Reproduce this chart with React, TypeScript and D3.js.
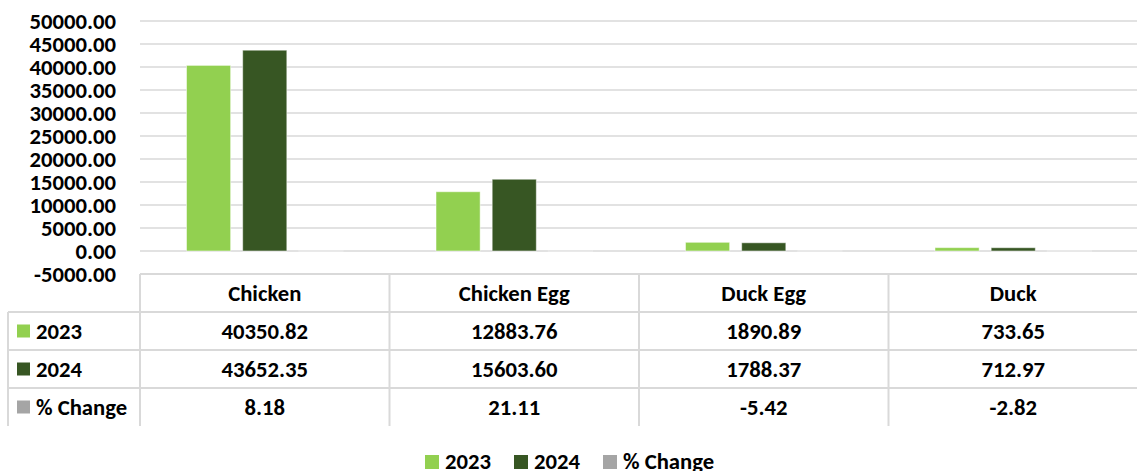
import * as d3 from "d3";

const width = 1137;
const height = 471;
const plot = { left: 140, right: 1138, top: 21, zero: 274 };

const categories = ["Chicken", "Chicken Egg", "Duck Egg", "Duck"];
const values2023 = [40350.82, 12883.76, 1890.89, 733.65];
const values2024 = [43652.35, 15603.6, 1788.37, 712.97];
const pctChange = [8.18, 21.11, -5.42, -2.82];
const seriesNames = ["2023", "2024", "% Change"];
const seriesColors = ["#92D050", "#375623", "#A5A5A5"];
const yTicks = d3.range(-5000, 50001, 5000);

const font = "Carlito, 'Open Sans', 'Liberation Sans', sans-serif";
const fs = 22.7;

const App = () => {
  const series = [values2023, values2024, pctChange];

  const y = d3.scaleLinear().domain([-5000, 50000]).range([plot.zero, plot.top]);
  const x = d3.scaleBand().domain(categories).range([plot.left, plot.right]).paddingInner(0).paddingOuter(0);
  const band = x.bandwidth();
  const inner = d3
    .scaleBand()
    .domain(seriesNames)
    .range([46.5, band - 46.5])
    .paddingInner(12 / 56);

  // table rows
  const rowTop = plot.zero;
  const rowH = 38;
  const tableLeft = 8;
  const rows = seriesNames.map((name, i) => ({ name, color: seriesColors[i], vals: series[i] }));
  const fmt = (v: number) => v.toFixed(2);

  const grid = "#D9D9D9";

  // legend layout
  const legendX = [425, 514, 603];

  return (
    <svg
      width={width}
      height={height}
      viewBox={`0 0 ${width} ${height}`}
      style={{ position: "absolute", left: 0, top: 0, background: "#fff" }}
      fontFamily={font}
      fontWeight="bold"
    >
      {/* gridlines */}
      {yTicks.slice(1).map(t => (
        <line key={t} x1={plot.left} x2={plot.right} y1={y(t)} y2={y(t)} stroke={grid} strokeWidth={1.5} />
      ))}

      {/* y tick labels */}
      {yTicks.map(t => (
        <text key={t} x={116} y={y(t)} dy="0.34em" textAnchor="end" fontSize={fs} fill="#000">
          {fmt(t)}
        </text>
      ))}

      {/* bars */}
      {categories.map((c, ci) => (
        <g key={c} transform={`translate(${x(c)},0)`}>
          {series.map((vals, si) => {
            const v = vals[ci];
            const y0 = y(0);
            const y1 = y(v);
            return (
              <rect
                key={si}
                x={inner(seriesNames[si])}
                width={inner.bandwidth()}
                y={Math.min(y0, y1)}
                height={Math.abs(y1 - y0)}
                fill={seriesColors[si]}
                stroke="#ffffff"
                strokeOpacity={0.5}
                strokeWidth={1}
              />
            );
          })}
        </g>
      ))}

      {/* data table */}
      <g>
        <line x1={plot.left} x2={plot.right} y1={rowTop} y2={rowTop} stroke={grid} strokeWidth={2} />
        {rows.map((_, i) => (
          <line
            key={i}
            x1={tableLeft}
            x2={plot.right}
            y1={rowTop + rowH * (i + 1)}
            y2={rowTop + rowH * (i + 1)}
            stroke={grid}
            strokeWidth={2}
          />
        ))}
        <line x1={tableLeft} x2={tableLeft} y1={rowTop + rowH} y2={rowTop + rowH * 4} stroke={grid} strokeWidth={2} />
        {categories.map(c => (
          <line key={c} x1={x(c)} x2={x(c)} y1={rowTop} y2={rowTop + rowH * 4} stroke={grid} strokeWidth={2} />
        ))}

        {categories.map(c => (
          <text
            key={c}
            x={(x(c) as number) + band / 2}
            y={rowTop + rowH / 2}
            dy="0.34em"
            textAnchor="middle"
            fontSize={fs}
            fill="#000"
          >
            {c}
          </text>
        ))}

        {rows.map((r, ri) => {
          const cy = rowTop + rowH * (ri + 1) + rowH / 2;
          return (
            <g key={r.name}>
              <rect x={17} y={cy - 6.5} width={13} height={13} fill={r.color} />
              <text x={36} y={cy} dy="0.34em" fontSize={fs} fill="#000">
                {r.name}
              </text>
              {categories.map((c, ci) => (
                <text
                  key={c}
                  x={(x(c) as number) + band / 2}
                  y={cy}
                  dy="0.34em"
                  textAnchor="middle"
                  fontSize={fs}
                  fill="#000"
                >
                  {fmt(r.vals[ci])}
                </text>
              ))}
            </g>
          );
        })}
      </g>

      {/* legend */}
      {seriesNames.map((name, i) => (
        <g key={name} transform={`translate(${legendX[i]},0)`}>
          <rect x={0} y={455} width={14} height={14} fill={seriesColors[i]} />
          <text x={20} y={469} fontSize={fs} fill="#000">
            {name}
          </text>
        </g>
      ))}
    </svg>
  );
};

export default App;
